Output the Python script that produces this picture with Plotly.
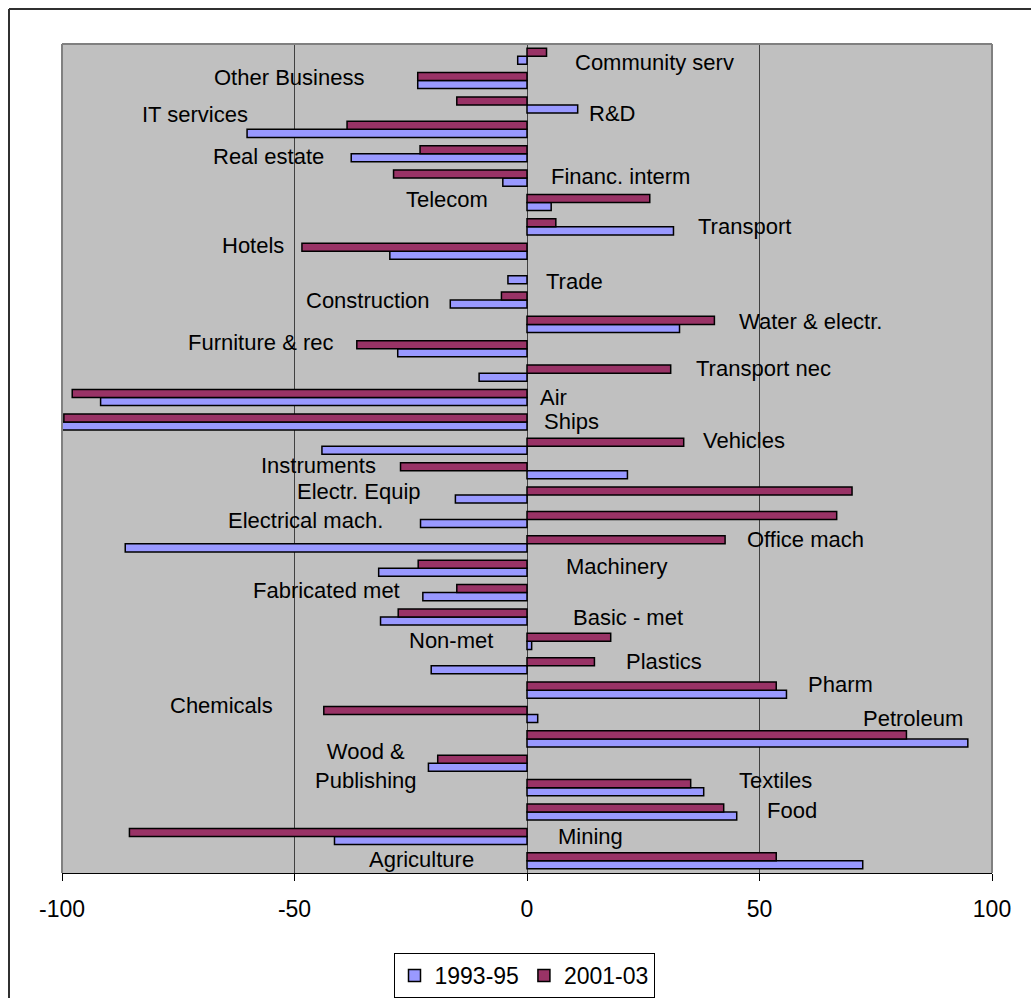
import plotly.graph_objects as go

# ---- data (bottom to top) ----
categories = [
    "Agriculture", "Mining", "Food", "Textiles", "Wood & Publishing", "Petroleum",
    "Chemicals", "Pharm", "Plastics", "Non-met", "Basic - met", "Fabricated met",
    "Machinery", "Office mach", "Electrical mach.", "Electr. Equip", "Instruments",
    "Vehicles", "Ships", "Air", "Transport nec", "Furniture & rec", "Water & electr.",
    "Construction", "Trade", "Hotels", "Transport", "Telecom", "Financ. interm",
    "Real estate", "IT services", "R&D", "Other Business", "Community serv",
]
values_1993_95 = [
    72.2, -41.4, 45.1, 38.0, -21.2, 94.8,
    2.3, 55.8, -20.6, 1.0, -31.5, -22.4,
    -31.9, -86.4, -22.9, -15.4, 21.6,
    -44.1, -100.0, -91.7, -10.3, -27.8, 32.8,
    -16.5, -4.1, -29.5, 31.5, 5.2, -5.2,
    -37.8, -60.2, 10.9, -23.5, -2.0,
]
values_2001_03 = [
    53.6, -85.5, 42.3, 35.2, -19.2, 81.6,
    -43.7, 53.6, 14.5, 18.0, -27.7, -15.1,
    -23.4, 42.6, 66.6, 69.9, -27.2,
    33.7, -99.6, -97.8, 30.9, -36.6, 40.3,
    -5.5, None, -48.4, 6.2, 26.4, -28.7,
    -23.0, -38.7, -15.1, -23.5, 4.2,
]
series_names = ["1993-95", "2001-03"]
x_ticks = [-100, -50, 0, 50, 100]

# ---- label placement (layout only) ----
label_text = {
    "Wood & Publishing": "Wood &<br>Publishing",
}
label_pos = {  # (x in data units, y in category index units)
    "Community serv": (27.5, 32.76), "Other Business": (-51.1, 32.11),
    "IT services": (-71.5, 30.59), "R&D": (18.2, 30.67),
    "Real estate": (-55.7, 28.87), "Financ. interm": (20.0, 28.05),
    "Telecom": (-17.2, 27.14), "Transport": (46.7, 26.0),
    "Hotels": (-59.0, 25.22), "Trade": (10.3, 23.74),
    "Construction": (-34.1, 23.0), "Water & electr.": (60.9, 22.1),
    "Furniture & rec": (-57.3, 21.24), "Transport nec": (50.9, 20.21),
    "Air": (5.7, 19.02), "Ships": (9.6, 18.0), "Vehicles": (46.7, 17.22),
    "Instruments": (-44.9, 16.23), "Electr. Equip": (-36.1, 15.13),
    "Electrical mach.": (-47.6, 13.94), "Office mach": (59.8, 13.16),
    "Machinery": (19.2, 12.09), "Fabricated met": (-43.2, 11.07),
    "Basic - met": (21.7, 9.96), "Non-met": (-16.3, 9.02),
    "Plastics": (29.4, 8.19), "Pharm": (67.5, 7.25), "Chemicals": (-65.6, 6.39),
    "Petroleum": (83.0, 5.82), "Wood & Publishing": (-34.6, 3.89),
    "Textiles": (53.5, 3.31), "Food": (56.9, 2.08), "Mining": (13.7, 0.98),
    "Agriculture": (-22.7, 0.07),
}

FONT = "Liberation Sans, Arial, sans-serif"
W, H = 1031, 998
L, R, T, B = 62, 39, 44, 125
pw, ph = W - L - R, H - T - B


def px_to_paper_x(px):
    return (px - L) / pw


def px_to_paper_y(py):
    return (H - B - py) / ph


fig = go.Figure()
fig.add_trace(go.Bar(
    y=categories, x=values_1993_95, name=series_names[0], orientation="h",
    marker=dict(color="#9999FF", line=dict(color="black", width=1.5)),
))
fig.add_trace(go.Bar(
    y=categories, x=values_2001_03, name=series_names[1], orientation="h",
    marker=dict(color="#993366", line=dict(color="black", width=1.5)),
))

annotations = []
for cat in categories:
    x, y = label_pos[cat]
    annotations.append(dict(
        x=x, y=y, xref="x", yref="y", text=label_text.get(cat, cat),
        showarrow=False, xanchor="center", yanchor="middle",
        font=dict(family=FONT, size=22, color="black"),
    ))

shapes = [
    # plot-area border (left, top, right) in gray
    dict(type="line", xref="paper", yref="paper", x0=0, x1=0, y0=0, y1=1,
         line=dict(color="#808080", width=2), layer="above"),
    dict(type="line", xref="paper", yref="paper", x0=0, x1=1, y0=1, y1=1,
         line=dict(color="#808080", width=2), layer="above"),
    dict(type="line", xref="paper", yref="paper", x0=1, x1=1, y0=0, y1=1,
         line=dict(color="#808080", width=2), layer="above"),
    # outer chart frame (left and top edges visible)
    dict(type="line", xref="paper", yref="paper",
         x0=px_to_paper_x(9), x1=px_to_paper_x(9),
         y0=px_to_paper_y(1000), y1=px_to_paper_y(9),
         line=dict(color="#303030", width=2)),
    dict(type="line", xref="paper", yref="paper",
         x0=px_to_paper_x(9), x1=px_to_paper_x(1035),
         y0=px_to_paper_y(9), y1=px_to_paper_y(9),
         line=dict(color="#303030", width=2)),
]

fig.update_layout(
    width=W, height=H, autosize=False,
    margin=dict(l=L, r=R, t=T, b=B, pad=0, autoexpand=False),
    paper_bgcolor="white", plot_bgcolor="#C0C0C0",
    barmode="group", bargap=0.34, bargroupgap=0,
    font=dict(family=FONT, size=22, color="black"),
    showlegend=True,
    legend=dict(
        orientation="h", x=px_to_paper_x(524), xanchor="center",
        yref="container", y=(H - 953) / H, yanchor="top",
        bordercolor="black", borderwidth=1, bgcolor="white",
        font=dict(family=FONT, size=23, color="black"),
        traceorder="normal", itemwidth=30,
    ),
    annotations=annotations,
    shapes=shapes,
)
fig.update_xaxes(
    range=[-100, 100], tickvals=x_ticks, ticktext=[str(v) for v in x_ticks],
    showgrid=True, gridcolor="#404040", gridwidth=1,
    zeroline=True, zerolinecolor="#404040", zerolinewidth=1,
    ticks="outside", ticklen=7, tickcolor="black", tickwidth=1,
    showline=True, linecolor="black", linewidth=1,
    tickfont=dict(family=FONT, size=23, color="black"),
    ticklabelstandoff=8,
)
fig.update_yaxes(
    type="category", categoryorder="array", categoryarray=categories,
    range=[-0.5, len(categories) - 0.5],
    showticklabels=False, ticks="", showgrid=False, zeroline=False, showline=False,
)

fig.write_html("out.html")
